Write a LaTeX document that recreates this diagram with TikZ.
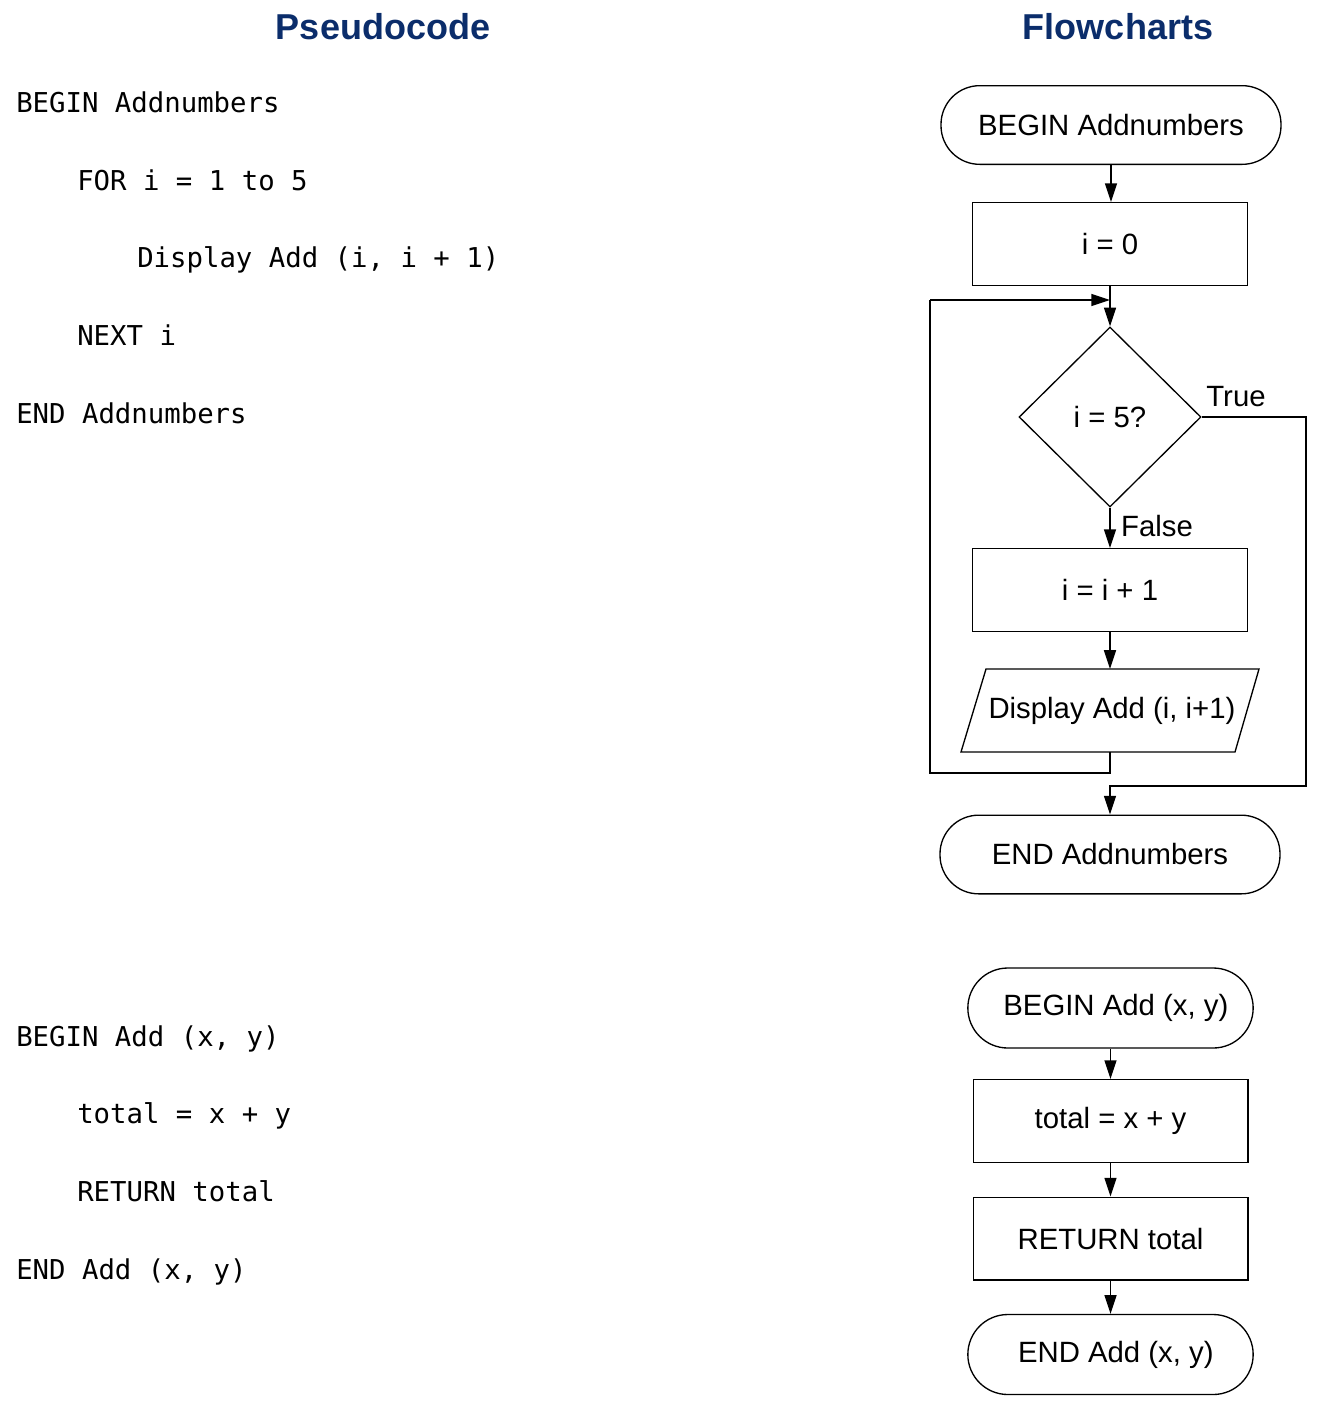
\documentclass[tikz,border=0pt]{standalone}
\usepackage{fontspec}
\setmainfont{Liberation Sans}
\newfontfamily\codefont{DejaVu Sans Mono}
\usetikzlibrary{shapes.geometric,arrows.meta}
\definecolor{titleblue}{HTML}{0B2D6B}
\begin{document}
\begin{tikzpicture}[x=0.75pt,y=-0.75pt,
  title/.style={font=\fontsize{27}{32}\selectfont\bfseries, text=titleblue},
  code/.style={font=\codefont\fontsize{20.5}{24}\selectfont, anchor=base west, inner sep=0pt},
  fc/.style={font=\fontsize{22}{26}\selectfont},
  term/.style={fc, draw, line width=1pt, rounded corners=29pt, minimum width=255pt, minimum height=59pt, inner sep=0pt},
  procbox/.style={fc, draw, line width=1pt, minimum width=206pt, minimum height=62pt, inner sep=0pt},
  decision/.style={fc, draw, line width=1pt, diamond, minimum width=136.5pt, minimum height=135pt, inner sep=0pt},
  arr/.style={line width=1pt, -{Triangle[length=14pt,width=9pt]}},
  ln/.style={line width=1pt},
  lbl/.style={fc, inner sep=0pt}
]
\useasboundingbox (0,0) rectangle (1325,1418);

% headings
\node[title] (hpseudo) at (383,27) {Pseudocode};
\node[title] (hflow) at (1118,27) {Flowcharts};

% pseudocode, first routine
\node[code] (p1) at (16,112) {BEGIN Addnumbers};
\node[code] (p2) at (77,190) {FOR i = 1 to 5};
\node[code] (p3) at (137,267) {Display Add (i, i + 1)};
\node[code] (p4) at (77,345) {NEXT i};
\node[code] (p5) at (16,423) {END Addnumbers};

% pseudocode, second routine
\node[code] (q1) at (16,1046) {BEGIN Add (x, y)};
\node[code] (q2) at (77,1123) {total = x + y};
\node[code] (q3) at (77,1201) {RETURN total};
\node[code] (q4) at (16,1279) {END Add (x, y)};

% flowchart of Addnumbers
\node[term] (beginA) at (1111,125) {BEGIN Addnumbers};
\node[procbox] (init) at (1110,244) {i = 0};
\node[decision] (dec) at (1110,417) {i = 5?};
\node[procbox] (incr) at (1110,590) {i = i + 1};
\node[fc, minimum width=204pt, minimum height=62pt, inner sep=0pt] (disp) at (1112,710.5) {Display Add (i, i+1)};
\draw[ln] (961,752) -- (986,669) -- (1259,669) -- (1235,752) -- cycle;
\node[term] (endA) at (1110,854.5) {END Addnumbers};

\coordinate (join) at (1110,300);
\coordinate (loopA) at (1110,773);
\coordinate (loopB) at (930,773);
\coordinate (loopC) at (930,300);
\coordinate (trueA) at (1306,417);
\coordinate (trueB) at (1306,786);
\coordinate (trueC) at (1110,786);

\draw[arr] (beginA.south) -- (beginA.south |- init.north);
\draw[arr] (init.south) -- (dec.north);
\draw[arr] (dec.south) -- (incr.north);
\draw[arr] (incr.south) -- (incr.south |- disp.north);
\draw[ln] (incr.south |- disp.south) -- (loopA) -- (loopB) -- (loopC);
\draw[arr] (loopC) -- (join);
\draw[arr] (dec.east) -- (trueA) -- (trueB) -- (trueC) -- (endA.north);

\node[lbl] (ltrue) at (1236,397) {True};
\node[lbl] (lfalse) at (1157,526) {False};

% flowchart of Add
\node[term, minimum width=214pt, rounded corners=30pt, minimum height=60pt] (beginB) at (1110.5,1008) {\hspace{8pt}BEGIN Add (x, y)};
\node[procbox] (tot) at (1110.5,1121) {total = x + y};
\node[procbox] (ret) at (1110.5,1238.5) {RETURN total};
\node[term, minimum width=214pt, rounded corners=30pt, minimum height=60pt] (endB) at (1110.5,1354.5) {\hspace{8pt}END Add (x, y)};

\draw[arr] (beginB.south) -- (tot.north);
\draw[arr] (tot.south) -- (ret.north);
\draw[arr] (ret.south) -- (endB.north);
\end{tikzpicture}
\end{document}
